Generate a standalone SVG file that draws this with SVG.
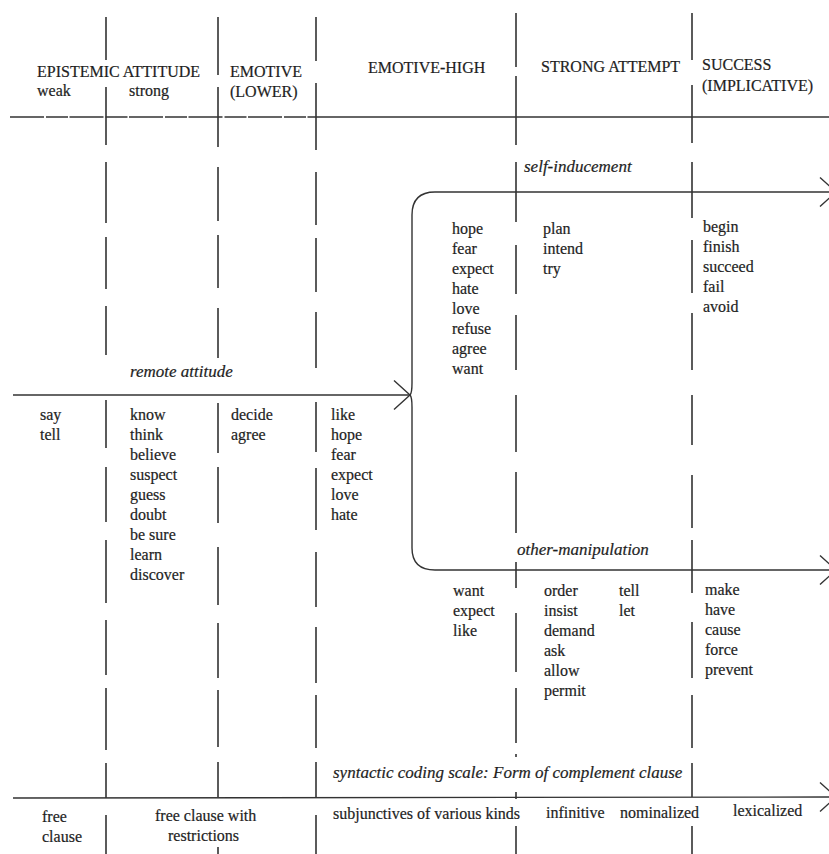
<svg xmlns="http://www.w3.org/2000/svg" width="829" height="854" viewBox="0 0 829 854">
<defs>
<style>
.t{font-family:"Liberation Serif","Times New Roman",serif;font-size:16px;fill:#1e1e1e;stroke:#1e1e1e;stroke-width:0.2}
.i{font-family:"Liberation Serif","Times New Roman",serif;font-size:17px;font-style:italic;fill:#1e1e1e;stroke:#1e1e1e;stroke-width:0.2}
.ln{stroke:#333;stroke-width:1.4;fill:none}
.dv{stroke:#333;stroke-width:1.6;fill:none}
</style>
<marker id="chev" markerUnits="userSpaceOnUse" markerWidth="18" markerHeight="32" viewBox="0 0 18 32" refX="17" refY="16" orient="auto" overflow="visible">
<path d="M1,1.5 L17,16 L1,30.5" fill="none" stroke="#333" stroke-width="1.4"/>
</marker>
</defs>
<rect width="829" height="854" fill="#fff"/>

<g id="dividers">
<path class="dv" d="M106,17V60 M106,87V145 M106,162V223 M106,237V289 M106,306V355 M106,400V448 M106,467V522 M106,540V603 M106,620V675 M106,688V750 M106,763V798 M106,815V854"/>
<path class="dv" d="M218,17V75 M218,87V147 M218,167V221 M218,235V288 M218,308V358 M218,403V453 M218,467V523 M218,547V605 M218,623V678 M218,690V747 M218,762V797 M218,847V854"/>
<path class="dv" d="M316,17V61 M316,83V150 M316,172V225 M316,238V292 M316,312V368 M316,402V452 M316,468V530 M316,552V607 M316,627V683 M316,695V748 M316,762V797 M316,815V854"/>
<path class="dv" d="M516,13V67 M516,76V145 M516,162V222 M516,245V294 M516,315V370 M516,395V452 M516,472V533 M516,562V588 M516,613V672 M516,688V743 M516,754V757 M516,792V799 M516,826V854"/>
<path class="dv" d="M692,13V60 M692,85V143 M692,162V218 M692,240V293 M692,313V370 M692,395V445 M692,475V528 M692,540V593 M692,622V678 M692,695V748 M692,763V797 M692,826V854"/>
</g>

<g id="connectors">
<line id="header-rule-left" class="ln" x1="10" y1="117" x2="320" y2="117" stroke-dasharray="34 2 22 1.5" stroke="#444"/>
<line id="header-rule" class="ln" x1="320" y1="117" x2="829" y2="117"/>
<line id="remote-attitude-arrow" class="ln" x1="13" y1="395" x2="410" y2="395" marker-end="url(#chev)"/>
<path id="self-inducement-arrow" class="ln" d="M410,395 Q412,393 412,383 V215 Q412,192 435,192 H836" marker-end="url(#chev)"/>
<path id="other-manipulation-arrow" class="ln" d="M410,395 Q412,397 412,407 V548 Q412,570 435,570 H836" marker-end="url(#chev)"/>
<line id="coding-scale-arrow" class="ln" x1="13" y1="798" x2="836" y2="797" marker-end="url(#chev)"/>
</g>

<g id="header-epistemic">
<text class="t" x="37" y="77">EPISTEMIC ATTITUDE</text>
<text class="t" x="37" y="96">weak</text>
<text class="t" x="129" y="96">strong</text>
</g>
<g id="header-emotive-lower">
<text class="t" x="230" y="77">EMOTIVE</text>
<text class="t" x="230" y="97">(LOWER)</text>
</g>
<g id="header-emotive-high"><text class="t" x="368" y="73">EMOTIVE-HIGH</text></g>
<g id="header-strong-attempt"><text class="t" x="541" y="72">STRONG ATTEMPT</text></g>
<g id="header-success">
<text class="t" x="702" y="70">SUCCESS</text>
<text class="t" x="702" y="91">(IMPLICATIVE)</text>
</g>

<g id="label-self-inducement"><text class="i" x="524" y="172">self-inducement</text></g>
<g id="label-remote-attitude"><text class="i" x="130" y="377">remote attitude</text></g>
<g id="label-other-manipulation"><text class="i" x="517" y="555">other-manipulation</text></g>
<g id="label-coding-scale"><text class="i" x="333" y="778">syntactic coding scale: Form of complement clause</text></g>

<g id="self-emotive-high">
<text class="t" x="452" y="234">hope</text>
<text class="t" x="452" y="254">fear</text>
<text class="t" x="452" y="274">expect</text>
<text class="t" x="452" y="294">hate</text>
<text class="t" x="452" y="314">love</text>
<text class="t" x="452" y="334">refuse</text>
<text class="t" x="452" y="354">agree</text>
<text class="t" x="452" y="374">want</text>
</g>
<g id="self-strong-attempt">
<text class="t" x="543" y="234">plan</text>
<text class="t" x="543" y="254">intend</text>
<text class="t" x="543" y="274">try</text>
</g>
<g id="self-success">
<text class="t" x="703" y="232">begin</text>
<text class="t" x="703" y="252">finish</text>
<text class="t" x="703" y="272">succeed</text>
<text class="t" x="703" y="292">fail</text>
<text class="t" x="703" y="312">avoid</text>
</g>

<g id="remote-weak">
<text class="t" x="40" y="420">say</text>
<text class="t" x="40" y="440">tell</text>
</g>
<g id="remote-strong">
<text class="t" x="130" y="420">know</text>
<text class="t" x="130" y="440">think</text>
<text class="t" x="130" y="460">believe</text>
<text class="t" x="130" y="480">suspect</text>
<text class="t" x="130" y="500">guess</text>
<text class="t" x="130" y="520">doubt</text>
<text class="t" x="130" y="540">be sure</text>
<text class="t" x="130" y="560">learn</text>
<text class="t" x="130" y="580">discover</text>
</g>
<g id="remote-emotive-lower">
<text class="t" x="231" y="420">decide</text>
<text class="t" x="231" y="440">agree</text>
</g>
<g id="remote-emotive-high">
<text class="t" x="331" y="420">like</text>
<text class="t" x="331" y="440">hope</text>
<text class="t" x="331" y="460">fear</text>
<text class="t" x="331" y="480">expect</text>
<text class="t" x="331" y="500">love</text>
<text class="t" x="331" y="520">hate</text>
</g>

<g id="other-emotive-high">
<text class="t" x="453" y="596">want</text>
<text class="t" x="453" y="616">expect</text>
<text class="t" x="453" y="636">like</text>
</g>
<g id="other-strong-attempt">
<text class="t" x="544" y="596">order</text>
<text class="t" x="544" y="616">insist</text>
<text class="t" x="544" y="636">demand</text>
<text class="t" x="544" y="656">ask</text>
<text class="t" x="544" y="676">allow</text>
<text class="t" x="544" y="696">permit</text>
<text class="t" x="619" y="596">tell</text>
<text class="t" x="619" y="616">let</text>
</g>
<g id="other-success">
<text class="t" x="705" y="595">make</text>
<text class="t" x="705" y="615">have</text>
<text class="t" x="705" y="635">cause</text>
<text class="t" x="705" y="655">force</text>
<text class="t" x="705" y="675">prevent</text>
</g>

<g id="form-free-clause">
<text class="t" x="42" y="822">free</text>
<text class="t" x="42" y="842">clause</text>
</g>
<g id="form-restricted">
<text class="t" x="155" y="821">free clause with</text>
<text class="t" x="168" y="841">restrictions</text>
</g>
<g id="form-subjunctive"><text class="t" x="333" y="819">subjunctives of various kinds</text></g>
<g id="form-infinitive"><text class="t" x="546" y="818">infinitive</text></g>
<g id="form-nominalized"><text class="t" x="620" y="818">nominalized</text></g>
<g id="form-lexicalized"><text class="t" x="733" y="816">lexicalized</text></g>
</svg>
